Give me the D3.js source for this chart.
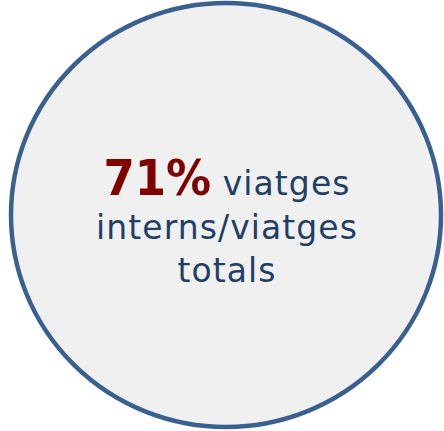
<!DOCTYPE html>
<html>
<head>
<meta charset="utf-8">
<script src="https://cdn.jsdelivr.net/npm/d3@7"></script>
<style>
  body { margin: 0; background: #ffffff; }
  svg { display: block; }
</style>
</head>
<body>
<svg id="chart" width="444" height="431"></svg>
<script>
// data
const shareValue = [71];
const shareUnit = ["%"];
const labelLines = ["viatges", "interns/viatges", "totals"];

const width = 444, height = 431;
const svg = d3.select("#chart");

// circle position via scales
const xScale = d3.scaleLinear().domain([0, 1]).range([11, 441]);
const yScale = d3.scaleLinear().domain([0, 1]).range([3, 427]);

svg.append("ellipse")
   .attr("cx", xScale(0.5))
   .attr("cy", yScale(0.5))
   .attr("rx", (xScale(1) - xScale(0)) / 2)
   .attr("ry", (yScale(1) - yScale(0)) / 2)
   .style("fill", "#f0f0f0")
   .style("stroke", "#3a6090")
   .style("stroke-width", 4.5);

const font = "'DejaVu Sans', sans-serif";
const bigFont = "'DejaVu Sans Condensed', 'DejaVu Sans', sans-serif";
const cx = xScale(0.5) + 1;
const baselines = [195, 239, 282];
const labelSize = 33;

// letter spacing so the middle line spans the reference width
function spacingFor(str, target) {
  const t = svg.append("text")
     .style("font-family", font)
     .style("font-size", labelSize + "px")
     .text(str);
  const w = t.node().getComputedTextLength();
  t.remove();
  return Math.max(0, (target - w) / str.length);
}
const spacing = spacingFor(labelLines[1], 262);

// first line: big percentage + first word
const line1 = svg.append("text")
   .attr("x", cx)
   .attr("y", baselines[0])
   .attr("text-anchor", "middle");

line1.append("tspan")
   .text(shareValue[0] + shareUnit[0])
   .style("font-family", bigFont)
   .style("font-size", "50px")
   .style("font-weight", "bold")
   .style("fill", "#800000");

line1.append("tspan")
   .text(" " + labelLines[0])
   .style("font-family", font)
   .style("font-size", labelSize + "px")
   .style("letter-spacing", spacing + "px")
   .style("fill", "#1f3f66");

labelLines.slice(1).forEach(function(d, i) {
  svg.append("text")
     .attr("x", cx)
     .attr("y", baselines[i + 1])
     .attr("text-anchor", "middle")
     .style("font-family", font)
     .style("font-size", labelSize + "px")
     .style("letter-spacing", spacing + "px")
     .style("fill", "#1f3f66")
     .text(d);
});
</script>
</body>
</html>
